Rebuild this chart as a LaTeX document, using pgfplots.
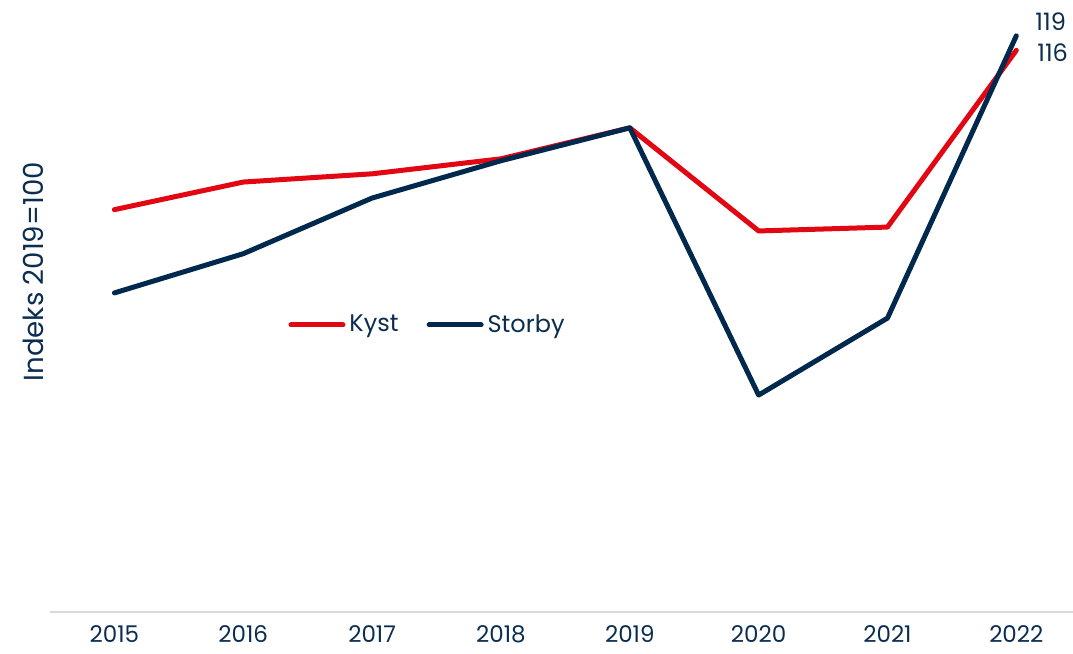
\documentclass[border=0pt]{standalone}
\usepackage{pgfplots}
\pgfplotsset{compat=1.18}
\usepackage{fontspec}
\setmainfont{Poppins}
\definecolor{kyst}{RGB}{227,6,19}
\definecolor{storby}{RGB}{0,41,77}
\definecolor{txt}{RGB}{11,45,79}
\definecolor{gridc}{RGB}{217,217,217}
\begin{document}
\begin{tikzpicture}
\useasboundingbox (-25pt,-21pt) rectangle (511.5pt,306pt);
\begin{axis}[
  at={(0,0)}, anchor=south west,
  scale only axis, width=511.5pt, height=306pt,
  xmin=-0.5, xmax=7.44, ymin=0, ymax=126.4,
  axis y line=none,
  axis x line*=bottom,
  x axis line style={gridc, line width=0.8pt, -},
  xtick={0,...,7},
  xticklabels={2015,2016,2017,2018,2019,2020,2021,2022},
  major tick length=0pt,
  ytick=\empty,
  font=\fontsize{12}{14}\selectfont,
  ticklabel style={text=txt, font=\fontsize{11.5}{14}\selectfont},
  xticklabel style={yshift=-5.5pt, inner sep=1pt},
  clip=false,
  legend columns=2,
  legend style={at={(axis description cs:0.37,0.469)}, anchor=center, draw=none, fill=none, text=txt,
    font=\fontsize{12}{14}\selectfont, /tikz/every even column/.append style={column sep=12pt}},
  legend image code/.code={\draw[#1, line cap=round] (0pt,0pt) -- (26pt,0pt);},
  every axis plot/.append style={line width=2.5pt, line join=round, line cap=round, mark=none},
]
\addplot[kyst] coordinates {(0,83.1) (1,88.8) (2,90.5) (3,93.6) (4,100) (5,78.7) (6,79.5) (7,116)};
\addlegendentry{Kyst}
\addplot[storby] coordinates {(0,65.9) (1,74.0) (2,85.5) (3,93.2) (4,100) (5,44.8) (6,60.7) (7,119)};
\addlegendentry{Storby}
\node[anchor=west, text=txt, font=\fontsize{12}{14}\selectfont, inner sep=0pt] at (axis cs:7.145,121.9) {119};
\node[anchor=west, text=txt, font=\fontsize{12}{14}\selectfont, inner sep=0pt] at (axis cs:7.16,115.6) {116};
\node[rotate=90, text=txt, font=\fontsize{13.8}{16}\selectfont, inner sep=0pt] at ([xshift=-8.5pt]axis description cs:0,0.556) {Indeks 2019=100};
\end{axis}
\end{tikzpicture}
\end{document}
